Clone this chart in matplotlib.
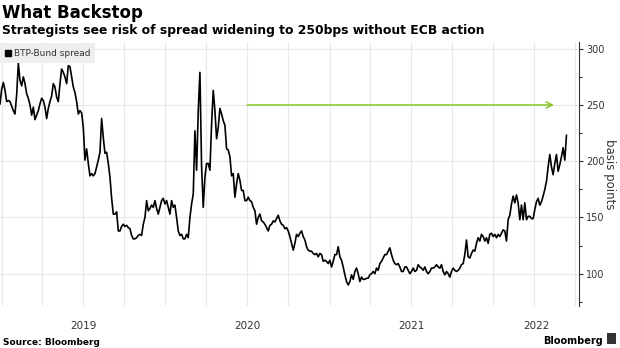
import matplotlib
matplotlib.use("Agg")
import matplotlib.pyplot as plt
import matplotlib.dates as mdates
from matplotlib.lines import Line2D
from matplotlib.ticker import MultipleLocator
import pandas as pd

# BTP-Bund spread in basis points, evenly sampled from late Dec 2018 to mid-June 2022
spread_bps = [
    251, 264, 270, 263, 253, 254, 253, 249, 245, 242, 259, 287, 272, 267, 275, 269, 260, 256, 250, 241,
    248, 237, 241, 245, 251, 256, 254, 248, 238, 247, 253, 258, 269, 266, 257, 253, 269, 282, 279, 275,
    269, 285, 284, 275, 266, 261, 253, 242, 245, 243, 230, 201, 211, 198, 187, 189, 187,
    189, 195, 201, 208, 238, 221, 207, 208, 198, 186, 167, 153, 153, 155, 138, 138, 142, 144, 142, 143,
    141, 140, 134, 131, 131, 132, 134, 135, 134, 144, 150, 165, 156, 158, 161, 159, 165, 158, 153, 159,
    165, 167, 162, 165, 159, 153, 165, 159, 161, 150, 138, 134, 135, 131, 131, 135, 132,
    150, 162, 171, 227, 192, 245, 279, 195, 159, 186, 198, 198, 192, 233, 263, 245, 220, 230, 247, 242,
    236, 232, 211, 210, 204, 187, 189, 168, 180, 189, 183, 174, 174, 165, 165, 168, 165, 164, 159, 156,
    144, 150, 153, 147, 146, 144, 141, 138, 143, 144, 147, 146, 149, 152, 147, 144, 143,
    140, 141, 138, 133, 127, 121, 127, 135, 133, 136, 138, 133, 130, 124, 121, 120, 120, 118, 117, 118,
    115, 118, 117, 111, 112, 111, 109, 112, 106, 111, 117, 117, 124, 115, 112, 106, 99, 93, 90, 93,
    99, 95, 102, 105, 100, 93, 97, 95, 95, 96, 96, 99, 100, 102, 100, 105, 103,
    109, 111, 114, 117, 117, 120, 123, 117, 112, 109, 108, 109, 106, 102, 102, 106, 106, 103, 100, 102,
    105, 102, 103, 108, 106, 105, 103, 106, 102, 100, 102, 105, 105, 106, 108, 106, 105, 108, 102, 99,
    102, 100, 97, 102, 105, 103, 102, 103, 105, 108, 109, 117, 130, 115, 114, 118, 121,
    120, 127, 132, 129, 135, 133, 129, 132, 127, 135, 136, 133, 135, 132, 135, 133, 136, 139, 138, 129,
    148, 152, 162, 169, 163, 170, 163, 148, 161, 148, 163, 148, 151, 151, 149, 149, 157, 164, 167, 161,
    164, 169, 175, 182, 195, 206, 195, 188, 198, 206, 191, 197, 204, 212, 201, 223,
]
first_date = "2018-12-28"
last_date = "2022-06-13"
year_labels = [2019, 2020, 2021, 2022]

# strategists' 250bp scenario
target_level = 250
target_from = "2020-07-01"
target_to = "2022-05-16"

dates = pd.date_range(first_date, last_date, periods=len(spread_bps))
x_min = pd.Timestamp("2018-12-28")
x_max = pd.Timestamp("2022-07-11")

fig = plt.figure(figsize=(6.2, 3.48), dpi=100)
ax = fig.add_axes([0, 0.1207, 0.9339, 0.7586])

ax.plot(dates, spread_bps, color="black", lw=1.2, zorder=3)

ax.annotate("", xy=(mdates.date2num(pd.Timestamp(target_to)), target_level),
            xytext=(mdates.date2num(pd.Timestamp(target_from)), target_level),
            arrowprops=dict(arrowstyle="->", color="#86c629", lw=1.1,
                            mutation_scale=11, shrinkA=0, shrinkB=0),
            zorder=2)

ax.set_xlim(x_min, x_max)
ax.set_ylim(71.3, 306)

# quarterly grid, year labels centred on the visible part of each year
ax.xaxis.set_minor_locator(mdates.MonthLocator(bymonth=[1, 4, 7, 10]))
mids = []
for yr in year_labels:
    lo = max(pd.Timestamp(f"{yr}-01-01"), x_min)
    hi = min(pd.Timestamp(f"{yr + 1}-01-01"), x_max)
    mids.append(mdates.date2num(lo + (hi - lo) / 2))
ax.set_xticks(mids)
ax.set_xticklabels([str(y) for y in year_labels])
ax.tick_params(axis="x", which="both", length=0, pad=11, labelsize=7.5, colors="#333333")
ax.grid(axis="x", which="minor", color="#e8e8e8", lw=0.8)

ax.yaxis.set_major_locator(MultipleLocator(50))
ax.yaxis.set_minor_locator(MultipleLocator(25))
ax.yaxis.tick_right()
ax.yaxis.set_label_position("right")
ax.tick_params(axis="y", which="major", length=3, width=0.8, pad=2, labelsize=7,
               colors="#333333", direction="out")
ax.tick_params(axis="y", which="minor", length=2, width=0.8, colors="#333333", direction="out")
ax.grid(axis="y", which="major", color="#e8e8e8", lw=0.8)
ax.set_ylabel("basis points", rotation=270, labelpad=8, fontsize=8.5, color="#333333")

for side in ["left", "top", "bottom"]:
    ax.spines[side].set_visible(False)
ax.spines["right"].set_color("#333333")
ax.spines["right"].set_linewidth(0.8)
ax.set_axisbelow(True)

handle = Line2D([], [], marker="s", color="black", ls="none", markersize=4)
leg = ax.legend([handle], ["BTP-Bund spread"], loc="upper left", bbox_to_anchor=(0, 0.995),
                frameon=True, fancybox=False, facecolor="#eeeeee", edgecolor="none",
                framealpha=1, fontsize=6.5, handlelength=0.6, handletextpad=0.3,
                borderpad=0.6, borderaxespad=0)
for t in leg.get_texts():
    t.set_color("#333333")

fig.text(0.004, 0.947, "What Backstop", fontsize=12, fontweight="bold", va="baseline")
fig.text(0.004, 0.901, "Strategists see risk of spread widening to 250bps without ECB action",
         fontsize=8.9, fontweight="bold", va="baseline")
fig.text(0.005, 0.009, "Source: Bloomberg", fontsize=6.5, fontweight="bold", va="baseline")
fig.text(0.972, 0.011, "Bloomberg", fontsize=7, fontweight="bold", va="baseline", ha="right")
fig.patches.append(plt.Rectangle((0.979, 0.011), 0.015, 0.031, transform=fig.transFigure,
                                 facecolor="#333333", edgecolor="none"))

fig.savefig("out.png", dpi=100)
